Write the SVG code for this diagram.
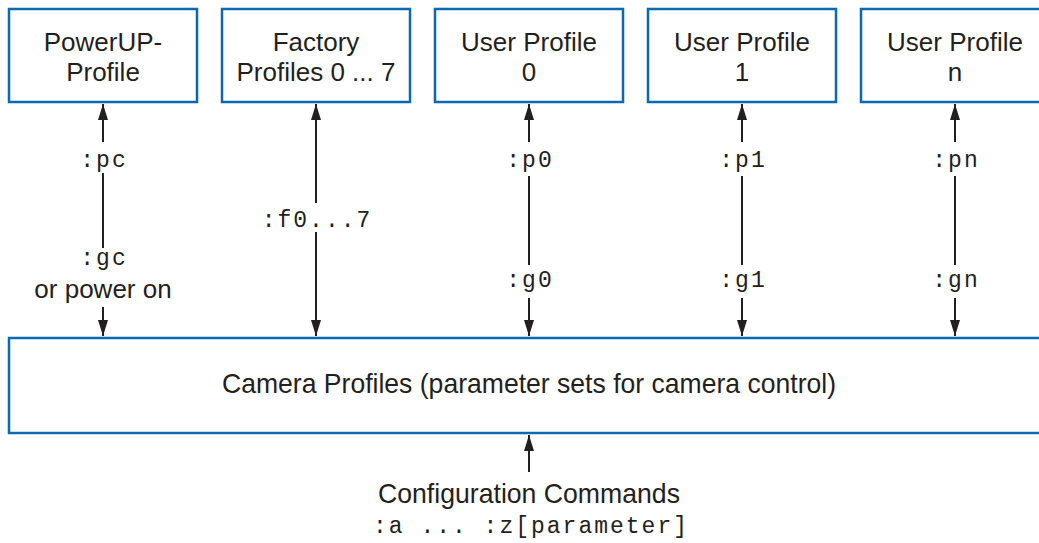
<svg xmlns="http://www.w3.org/2000/svg" width="1039" height="543" viewBox="0 0 1039 543">
<style>
.box{fill:#fff;stroke:#0a68b4;stroke-width:2.5}
.t{font-family:"Liberation Sans",Arial,sans-serif;font-size:26px;fill:#231f20;text-anchor:middle}
.big{font-size:28px}
.m{font-family:"Liberation Mono","Courier New",monospace;font-size:23px;letter-spacing:2px;fill:#231f20;text-anchor:middle}
.ln{stroke:#231f20;stroke-width:2;fill:none}
</style>
<defs>
<marker id="ah" markerUnits="userSpaceOnUse" markerWidth="16" markerHeight="10" refX="16" refY="5" viewBox="0 0 16 10" orient="auto">
<path d="M0,0 L16,5 L0,10 Z" fill="#231f20"/>
</marker>
</defs>
<rect width="1039" height="543" fill="#fff"/>
<g id="powerup">
<rect class="box" x="9" y="9" width="188" height="93"/>
<text class="t" x="103" y="51">PowerUP-</text>
<text class="t" x="103" y="81">Profile</text>
</g>
<g id="factory">
<rect class="box" x="222" y="9" width="188" height="93"/>
<text class="t" x="316" y="51">Factory</text>
<text class="t" x="316" y="81">Profiles 0 ... 7</text>
</g>
<g id="user0">
<rect class="box" x="435" y="9" width="188" height="93"/>
<text class="t" x="529" y="51">User Profile</text>
<text class="t" x="529" y="81">0</text>
</g>
<g id="user1">
<rect class="box" x="648" y="9" width="188" height="93"/>
<text class="t" x="742" y="51">User Profile</text>
<text class="t" x="742" y="81">1</text>
</g>
<g id="usern">
<rect class="box" x="861" y="9" width="188" height="93"/>
<text class="t" x="955" y="51">User Profile</text>
<text class="t" x="955" y="81">n</text>
</g>
<g id="camera">
<rect class="box" x="9" y="338" width="1045" height="95"/>
<text class="t big" x="529" y="393" textLength="614" lengthAdjust="spacingAndGlyphs">Camera Profiles (parameter sets for camera control)</text>
</g>
<g id="config">
<text class="t big" x="529" y="503" textLength="302" lengthAdjust="spacingAndGlyphs">Configuration Commands</text>
<text class="m" x="531" y="533">:a ... :z[parameter]</text>
</g>
<g id="connectors">
<line class="ln" x1="103" y1="142" x2="103" y2="104" marker-end="url(#ah)"/>
<line class="ln" x1="103" y1="173" x2="103" y2="248"/>
<line class="ln" x1="103" y1="307" x2="103" y2="336" marker-end="url(#ah)"/>
<line class="ln" x1="316" y1="203" x2="316" y2="104" marker-end="url(#ah)"/>
<line class="ln" x1="316" y1="232" x2="316" y2="336" marker-end="url(#ah)"/>
<line class="ln" x1="529" y1="142" x2="529" y2="104" marker-end="url(#ah)"/>
<line class="ln" x1="529" y1="176" x2="529" y2="265"/>
<line class="ln" x1="529" y1="298" x2="529" y2="336" marker-end="url(#ah)"/>
<line class="ln" x1="742" y1="142" x2="742" y2="104" marker-end="url(#ah)"/>
<line class="ln" x1="742" y1="176" x2="742" y2="265"/>
<line class="ln" x1="742" y1="298" x2="742" y2="336" marker-end="url(#ah)"/>
<line class="ln" x1="955" y1="142" x2="955" y2="104" marker-end="url(#ah)"/>
<line class="ln" x1="955" y1="176" x2="955" y2="265"/>
<line class="ln" x1="955" y1="298" x2="955" y2="336" marker-end="url(#ah)"/>
<line class="ln" x1="529" y1="472" x2="529" y2="435" marker-end="url(#ah)"/>
</g>
<g id="labels">
<text class="m" x="104" y="167">:pc</text>
<text class="m" x="104" y="265">:gc</text>
<text class="t" x="103" y="298">or power on</text>
<text class="m" x="317" y="227">:f0...7</text>
<text class="m" x="530" y="167">:p0</text>
<text class="m" x="530" y="287">:g0</text>
<text class="m" x="743" y="167">:p1</text>
<text class="m" x="743" y="287">:g1</text>
<text class="m" x="956" y="167">:pn</text>
<text class="m" x="956" y="287">:gn</text>
</g>
</svg>
